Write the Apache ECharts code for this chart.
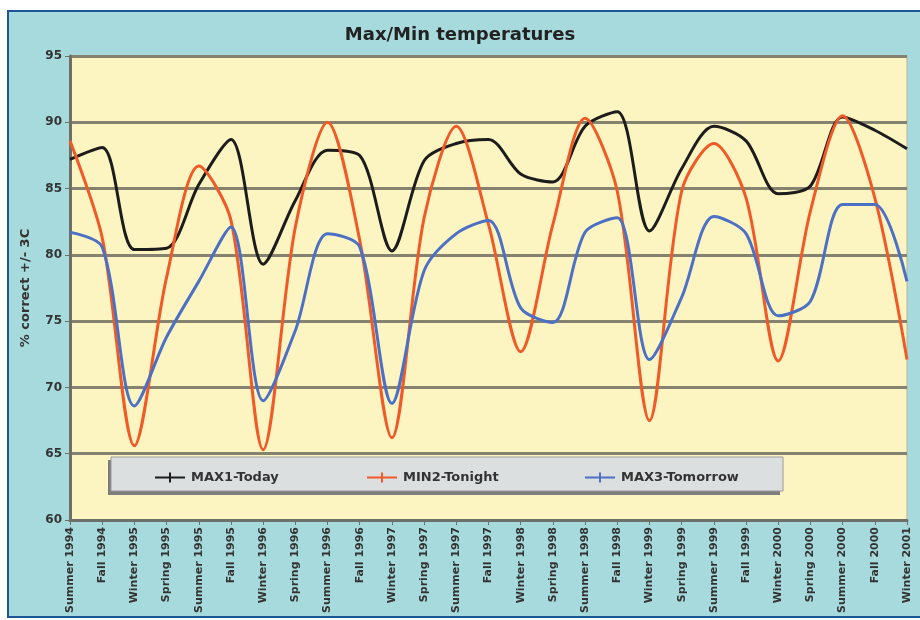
<!DOCTYPE html>
<html><head><meta charset="utf-8">
<script src="https://cdn.jsdelivr.net/npm/echarts@6/dist/echarts.min.js"></script>
<style>html,body{margin:0;padding:0;background:#fff}#c{width:920px;height:620px}</style>
</head><body><div id="c"></div>
<script>
const categories = ['Summer 1994','Fall 1994','Winter 1995','Spring 1995','Summer 1995','Fall 1995','Winter 1996','Spring 1996','Summer 1996','Fall 1996','Winter 1997','Spring 1997','Summer 1997','Fall 1997','Winter 1998','Spring 1998','Summer 1998','Fall 1998','Winter 1999','Spring 1999','Summer 1999','Fall 1999','Winter 2000','Spring 2000','Summer 2000','Fall 2000','Winter 2001'];
const max1Today = [87.2,88.1,80.4,80.5,85.3,88.7,79.3,84.1,87.9,87.5,80.3,87.1,88.4,88.7,86.1,85.5,89.7,90.8,81.8,86.5,89.7,88.6,84.6,85.2,90.4,89.4,88.0];
const min2Tonight = [88.6,81.3,65.6,78.3,86.7,82.6,65.3,82.1,90.0,81.1,66.2,82.8,89.7,82.3,72.7,82.3,90.3,84.8,67.5,84.8,88.4,84.3,72.0,83.3,90.5,84.3,72.1];
const max3Tomorrow = [81.7,80.6,68.6,73.8,78.0,82.1,69.0,74.3,81.6,80.6,68.8,78.8,81.6,82.6,76.0,74.9,81.7,82.8,72.1,76.8,82.9,81.6,75.4,76.5,83.8,83.8,78.0];
const seriesNames = ['MAX1-Today','MIN2-Tonight','MAX3-Tomorrow'];
const yTicks = {min:60, max:95, interval:5};

const colors = ['#1c1c1c','#f05a28','#4b70c4'];
const legendIcon = 'path://M0,4h30v2h-30z M14,0h2v10h-2z';
const chart = echarts.init(document.getElementById('c'));
const font = 'DejaVu Sans, Verdana, sans-serif';
function mkSeries(name, data, color){
  return {name, type:'line', data, smooth:0.3, showSymbol:false, symbol:'none',
    lineStyle:{color, width:3}, itemStyle:{color}, z:5};
}
const legendPos = [150, 362, 580];
chart.setOption({
  backgroundColor:'#ffffff',
  animation:false,
  title:{text:'Max/Min temperatures', left:'center', top:21,
    textStyle:{fontFamily:font, fontSize:18, fontWeight:'bold', color:'#222'}},
  graphic:[
    {type:'rect', z:-10, silent:true, shape:{x:8, y:11, width:930, height:606},
      style:{fill:'#a7dadc', stroke:'#1d5796', lineWidth:2}},
    {type:'rect', z:3, silent:true, shape:{x:108, y:460, width:672, height:35},
      style:{fill:'#7d7d7d'}},
    {type:'rect', z:3, silent:true, shape:{x:111, y:457, width:672, height:34},
      style:{fill:'#dcdfe0', stroke:'#9a9a9a', lineWidth:1}}
  ],
  legend: seriesNames.map((n,i)=>({
    data:[n], left:legendPos[i], top:466, icon:legendIcon, itemWidth:32, itemHeight:10,
    itemGap:5, z:6,
    textStyle:{fontFamily:font, fontSize:13, fontWeight:'bold', color:'#333'}
  })),
  grid:{left:70, right:13, top:56, bottom:100, show:true, backgroundColor:'#fdf5c1',
    borderColor:'#b5b3a0', borderWidth:1},
  xAxis:{type:'category', data:categories, boundaryGap:false,
    axisLine:{lineStyle:{color:'#6f6f6a', width:3}},
    axisTick:{show:true, length:5, interval:0, lineStyle:{color:'#6f6f6a', width:1}},
    axisLabel:{interval:0, rotate:90, fontSize:11, fontWeight:'bold', color:'#333', margin:7, fontFamily:font},
    splitLine:{show:false}},
  yAxis:{type:'value', min:yTicks.min, max:yTicks.max, interval:yTicks.interval,
    name:'% correct +/- 3C', nameLocation:'middle', nameRotate:90, nameGap:38,
    nameTextStyle:{fontFamily:font, fontSize:13, fontWeight:'bold', color:'#333'},
    axisLine:{show:true, lineStyle:{color:'#6f6f6a', width:3}},
    axisTick:{show:true, length:5, lineStyle:{color:'#6f6f6a', width:1}},
    axisLabel:{fontSize:12, fontWeight:'bold', color:'#333', margin:8, fontFamily:font},
    splitLine:{show:true, lineStyle:{color:'#85836f', width:3}}},
  series:[
    mkSeries(seriesNames[0], max1Today, colors[0]),
    mkSeries(seriesNames[1], min2Tonight, colors[1]),
    mkSeries(seriesNames[2], max3Tomorrow, colors[2])
  ]
});
</script></body></html>
